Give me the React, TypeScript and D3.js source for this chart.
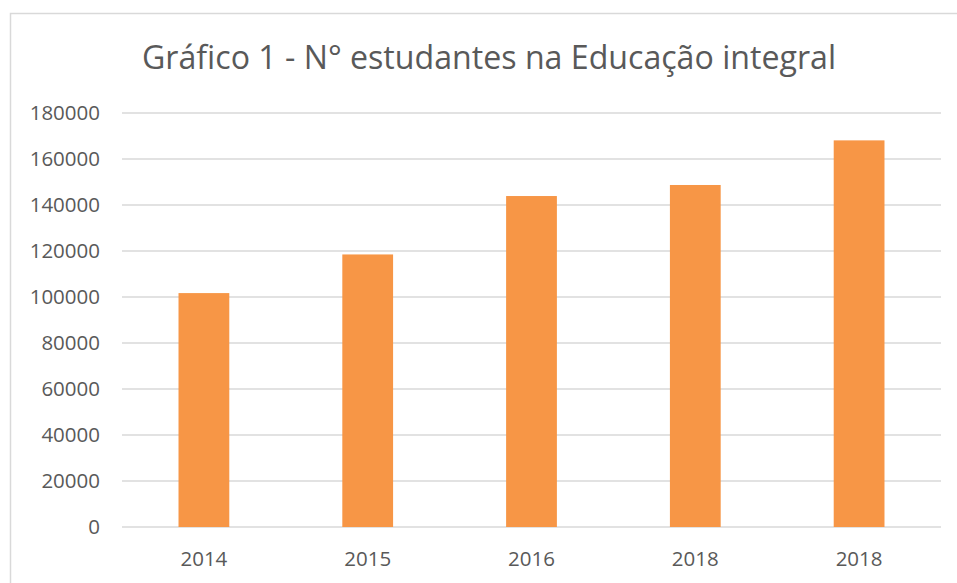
import React from "react";
import * as d3 from "d3";

const title = "Gráfico 1 - N° estudantes na Educação integral";
const categories = ["2014", "2015", "2016", "2018", "2018"];
const values = [101700, 118500, 143900, 148700, 168100];
const yTicks = [0, 20000, 40000, 60000, 80000, 100000, 120000, 140000, 160000, 180000];

const W = 957;
const H = 583;
const plot = { left: 122, right: 941, top: 113, bottom: 527 };
const font = "'Open Sans', 'Liberation Sans', sans-serif";
const textColor = "#595959";
const gridColor = "#d9d9d9";
const barColor = "#F79646";

export default function App() {
  const x = d3
    .scaleBand<number>()
    .domain(categories.map((_, i) => i))
    .range([plot.left, plot.right])
    .paddingInner(0.69)
    .paddingOuter(0.345);
  const y = d3.scaleLinear().domain([0, 180000]).range([plot.bottom, plot.top]);

  return (
    <svg
      width={W}
      height={H}
      style={{ position: "absolute", left: 0, top: 0, background: "#fff" }}
    >
      <rect x={0} y={0} width={W} height={H} fill="#fff" />
      <rect x={10.5} y={13.5} width={W + 20} height={H + 20} fill="none" stroke={gridColor} strokeWidth={1.5} />
      <text
        x={(142 + 836) / 2}
        y={69}
        textAnchor="middle"
        fontFamily={font}
        fontSize={33}
        fill={textColor}
        textLength={694}
        lengthAdjust="spacingAndGlyphs"
      >
        {title}
      </text>
      {yTicks.map((t) => (
        <g key={t}>
          <line x1={plot.left} x2={plot.right} y1={y(t)} y2={y(t)} stroke={gridColor} strokeWidth={1.5} />
          <text
            x={100}
            y={y(t)}
            dy="0.35em"
            textAnchor="end"
            fontFamily={font}
            fontSize={20.5}
            fill={textColor}
          >
            {t}
          </text>
        </g>
      ))}
      {values.map((v, i) => (
        <rect
          key={i}
          x={x(i)!}
          y={y(v)}
          width={x.bandwidth()}
          height={y(0) - y(v)}
          fill={barColor}
        />
      ))}
      {categories.map((c, i) => (
        <text
          key={i}
          x={x(i)! + x.bandwidth() / 2}
          y={566}
          textAnchor="middle"
          fontFamily={font}
          fontSize={20.5}
          fill={textColor}
        >
          {c}
        </text>
      ))}
    </svg>
  );
}
